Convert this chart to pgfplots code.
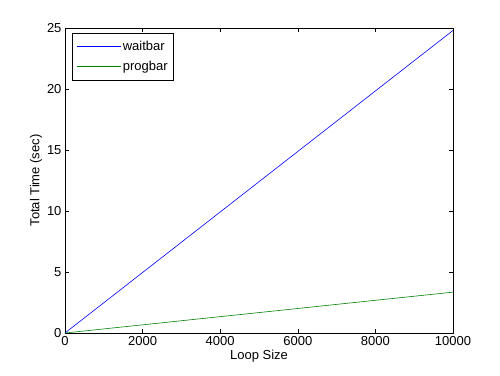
\documentclass[border=0pt]{standalone}
\usepackage{pgfplots}
\pgfplotsset{compat=1.18}
\usepackage{fontspec}
\setmainfont{Liberation Sans}
\definecolor{mblue}{RGB}{0,0,255}
\definecolor{mgreen}{RGB}{0,128,0}
\begin{document}
\begin{tikzpicture}
\begin{axis}[
  scale only axis,
  width=388pt, height=305pt,
  xmin=0, xmax=10000, ymin=0, ymax=25,
  xtick={0,2000,4000,6000,8000,10000},
  ytick={0,5,10,15,20,25},
  tick align=inside,
  major tick length=4pt,
  tick style={black, line width=0.5pt},
  axis line style={line width=0.6pt},
  scaled x ticks=false,
  /pgf/number format/assume math mode=true,
  /pgf/number format/1000 sep={},
  tick label style={font=\fontsize{13}{15}\selectfont},
  label style={font=\fontsize{13}{15}\selectfont},
  xlabel={Loop Size},
  ylabel={Total Time (sec)},
  xlabel style={yshift=3pt},
  ylabel style={yshift=-2pt},
  legend style={at={(0,1)}, anchor=north west, xshift=7pt, yshift=-5pt,
    font=\fontsize{13}{15}\selectfont, draw=black, line width=0.5pt,
    row sep=5pt, inner xsep=4pt, inner ysep=6pt},
  legend cell align=left,
  legend image code/.code={\draw[#1] plot coordinates {(2pt,0pt) (40pt,0pt)};
    \path (0pt,0pt) -- (44pt,0pt);},
]
\addplot[color=mblue, line width=0.6pt] coordinates {(0,0) (10000,24.8)};
\addlegendentry{waitbar}
\addplot[color=mgreen, line width=0.6pt] coordinates {(0,0) (10000,3.35)};
\addlegendentry{progbar}
\end{axis}
\path (current axis.south west) ++(-65pt,-42pt) rectangle ++(500pt,375pt);
\end{tikzpicture}
\end{document}
